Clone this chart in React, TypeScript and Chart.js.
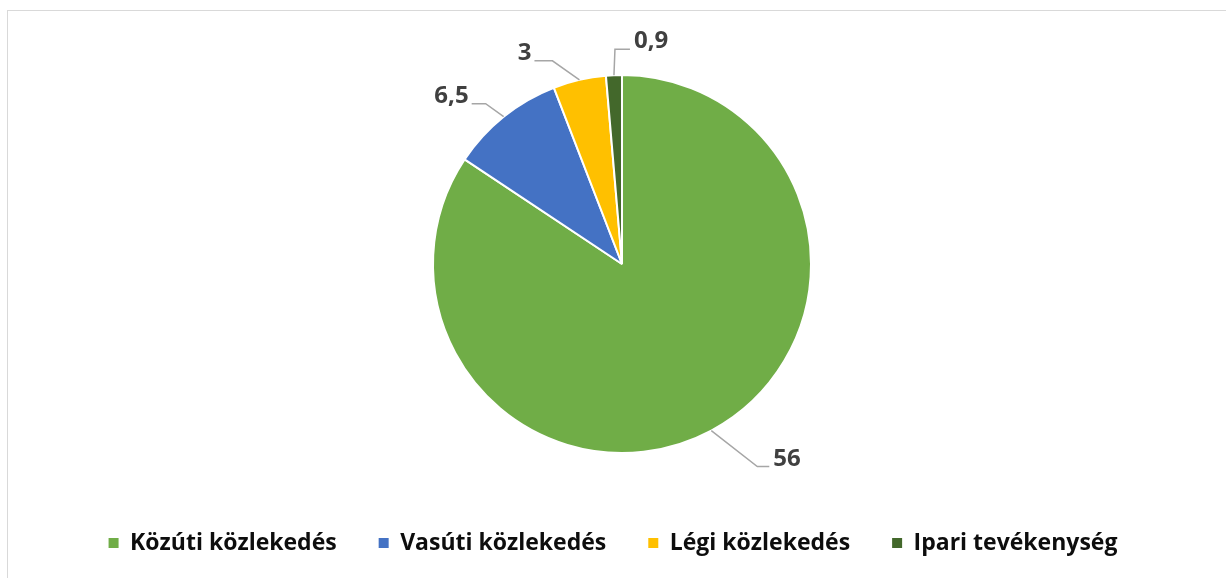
import React, { useEffect, useRef } from "react";
import { Chart, registerables } from "chart.js";

Chart.register(...registerables);

const categories = ["Közúti közlekedés", "Vasúti közlekedés", "Légi közlekedés", "Ipari tevékenység"];
const values = [56, 6.5, 3, 0.9];
const colors = ["#70ad47", "#4472c4", "#ffc000", "#43682b"];
// leader line styling: elbow offset from slice edge and horizontal tail length
const leaderElbow = [[46, 36], [-18, -13], [-27, -19], [1, -26]];
const leaderTail = [12, -14, -18, 15];

const FONT = "'Open Sans', sans-serif";

const shiftPlugin = {
  id: "shiftPie",
  afterLayout(chart: any) {
    chart.chartArea.left += 9;
    chart.chartArea.right += 9;
  },
};

const labelPlugin = {
  id: "leaderLabels",
  afterDatasetsDraw(chart: any) {
    const meta = chart.getDatasetMeta(0);
    const ctx = chart.ctx;
    ctx.save();
    meta.data.forEach((arc: any, i: number) => {
      const { x, y, startAngle, endAngle, outerRadius } = arc.getProps(
        ["x", "y", "startAngle", "endAngle", "outerRadius"],
        true
      );
      const mid = (startAngle + endAngle) / 2;
      const ex = x + Math.cos(mid) * outerRadius;
      const ey = y + Math.sin(mid) * outerRadius;
      const bx = ex + leaderElbow[i][0];
      const by = ey + leaderElbow[i][1];
      const cx = bx + leaderTail[i];
      ctx.beginPath();
      ctx.moveTo(ex, ey);
      ctx.lineTo(bx, by);
      ctx.lineTo(cx, by);
      ctx.strokeStyle = "#a6a6a6";
      ctx.lineWidth = 1.5;
      ctx.stroke();
      const right = leaderTail[i] > 0;
      ctx.font = `bold 24px ${FONT}`;
      ctx.fillStyle = "#404040";
      ctx.textAlign = right ? "left" : "right";
      ctx.textBaseline = "alphabetic";
      ctx.fillText(String(values[i]).replace(".", ","), cx + (right ? 4 : -3), by - 1);
    });
    ctx.restore();
  },
};

export default function App() {
  const ref = useRef<HTMLCanvasElement>(null);
  useEffect(() => {
    const base = (Chart as any).overrides.pie.plugins.legend.labels.generateLabels;
    const chart = new Chart(ref.current as HTMLCanvasElement, {
      type: "pie",
      data: {
        labels: categories,
        datasets: [
          {
            data: values,
            backgroundColor: colors,
            borderColor: "#ffffff",
            borderWidth: 2,
          },
        ],
      },
      options: {
        animation: false,
        responsive: false,
        layout: { padding: { top: 74, bottom: 13.5, left: 0, right: 0 } },
        plugins: {
          tooltip: { enabled: false },
          legend: {
            position: "bottom",
            title: { display: true, text: " ", font: { size: 12 }, padding: { top: 21.1, bottom: 0 } },
            labels: {
              boxWidth: 10,
              boxHeight: 10,
              padding: 42,
              color: "#0d0d0d",
              font: { family: FONT, size: 23, weight: "bold" },
              generateLabels: (c: any) =>
                base(c).map((l: any) => ({ ...l, lineWidth: 0, strokeStyle: "transparent" })),
            },
          },
        },
      } as any,
      plugins: [shiftPlugin, labelPlugin],
    });
    return () => chart.destroy();
  }, []);
  return (
    <>
      <div
        style={{
          position: "absolute",
          left: 7,
          top: 10,
          width: 1219,
          height: 568,
          borderLeft: "1px solid #d9d9d9",
          borderTop: "1px solid #d9d9d9",
          boxSizing: "border-box",
        }}
      />
      <canvas
        ref={ref}
        width={1226}
        height={578}
        style={{ position: "absolute", left: 0, top: 0, width: 1226, height: 578 }}
      />
    </>
  );
}
